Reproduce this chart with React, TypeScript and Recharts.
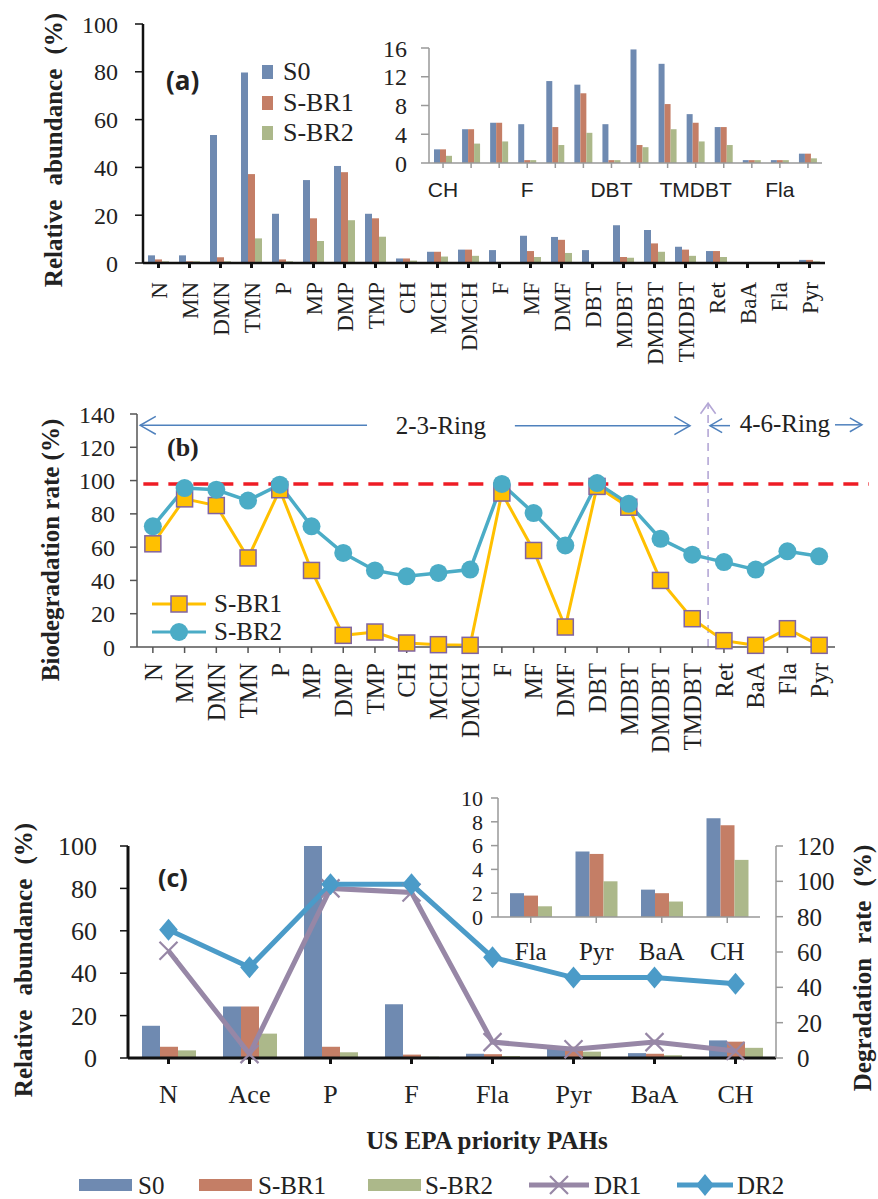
import React from 'react';
import {
  BarChart,
  Bar,
  XAxis,
  YAxis,
  LineChart,
  Line,
  ComposedChart,
  ReferenceLine,
  ReferenceDot,
  Legend,
} from 'recharts';

const SERIF = '"Liberation Serif", "Times New Roman", serif';
const SANS = '"Liberation Sans", Arial, sans-serif';
const OPEN = '"Open Sans", "Liberation Sans", sans-serif';

// ---------------- data: panel (a) ----------------
const pahCategories = ['N', 'MN', 'DMN', 'TMN', 'P', 'MP', 'DMP', 'TMP', 'CH', 'MCH', 'DMCH', 'F', 'MF', 'DMF', 'DBT', 'MDBT', 'DMDBT', 'TMDBT', 'Ret', 'BaA', 'Fla', 'Pyr'];
const s0Abundance = [3.2, 3.2, 53.6, 79.7, 20.6, 34.7, 40.6, 20.6, 1.9, 4.7, 5.6, 5.4, 11.4, 10.9, 5.4, 15.8, 13.8, 6.8, 5.0, 0.4, 0.4, 1.3];
const sbr1Abundance = [1.5, 0.7, 2.4, 37.2, 1.5, 18.7, 38.0, 18.7, 1.9, 4.7, 5.6, 0.4, 5.0, 9.7, 0.4, 2.5, 8.2, 5.6, 5.0, 0.4, 0.4, 1.3];
const sbr2Abundance = [0.7, 0.7, 0.7, 10.3, 0.7, 9.2, 17.9, 11.0, 1.0, 2.7, 3.0, 0.4, 2.5, 4.2, 0.4, 2.2, 4.7, 3.0, 2.5, 0.4, 0.4, 0.65];
const insetStartCategory = 'CH';
const abundanceTicks = [0, 20, 40, 60, 80, 100];
const insetTicksA = [0, 4, 8, 12, 16];

// ---------------- data: panel (b) ----------------
const rateSBR1 = [62, 89, 85, 53.5, 94.5, 46, 7, 9, 2.4, 1.4, 1, 92.5, 58, 12, 96.5, 84, 40, 17, 3.8, 1, 11, 1];
const rateSBR2 = [72.5, 95.5, 94.5, 88, 97.5, 72.5, 56.5, 46, 42.5, 44.5, 46.5, 98, 80.5, 61, 98.5, 86, 65, 55.5, 51, 46.5, 57.5, 54.5];
const rateTicks = [0, 20, 40, 60, 80, 100, 120, 140];
const completeDegradation = 98;
const lastLowRing = 'TMDBT';

// ---------------- data: panel (c) ----------------
const epaCategories = ['N', 'Ace', 'P', 'F', 'Fla', 'Pyr', 'BaA', 'CH'];
const epaS0 = [15.2, 24.3, 100, 25.3, 2.0, 5.5, 2.3, 8.3];
const epaSBR1 = [5.3, 24.3, 5.3, 1.6, 1.8, 5.3, 2.0, 7.7];
const epaSBR2 = [3.6, 11.5, 2.7, 0.6, 0.9, 3.0, 1.3, 4.8];
const epaDR1 = [60.7, 2.2, 96, 93.7, 9, 5, 9, 4];
const epaDR2 = [72.6, 51.4, 98.3, 98.3, 57, 45.5, 45.5, 42];
const epaInsetFrom = 'Fla';
const rateTicksC = [0, 20, 40, 60, 80, 100, 120];
const insetTicksC = [0, 2, 4, 6, 8, 10];

// ---------------- colours ----------------
const C_S0 = '#6f8ab1';
const C_BR1 = '#c47e66';
const C_BR2 = '#acb88a';
const C_Y = '#ffc000';
const C_CY = '#4bacc6';
const C_DR1 = '#9787a6';
const C_DR2 = '#4b9bc8';
const C_ARROW = '#4f81bd';

// ---------------- derived tables ----------------
const dataA = pahCategories.map((name, i) => ({ name, s0: s0Abundance[i], sbr1: sbr1Abundance[i], sbr2: sbr2Abundance[i] }));
const dataAInset = dataA.slice(pahCategories.indexOf(insetStartCategory));
const dataB = pahCategories.map((name, i) => ({ i, name, br1: rateSBR1[i], br2: rateSBR2[i] }));
const boundaryB = pahCategories.indexOf(lastLowRing) + 0.5;
const dataC = epaCategories.map((name, i) => ({ name, s0: epaS0[i], sbr1: epaSBR1[i], sbr2: epaSBR2[i], dr1: epaDR1[i], dr2: epaDR2[i] }));
const dataCInset = dataC.slice(epaCategories.indexOf(epaInsetFrom));

// ---------------- helpers ----------------
const RotTick = (props: any) => {
  const { x, y, payload, names, fontSize, offset } = props;
  const v = names ? names[payload.value] : payload.value;
  const yy = y + (offset || 0);
  return (
    <text
      x={x}
      y={yy}
      dy="0.35em"
      transform={`rotate(-90, ${x}, ${yy})`}
      textAnchor="end"
      fontFamily={SERIF}
      fontSize={fontSize}
      fill="#222"
    >
      {v}
    </text>
  );
};

const InsetTickA = (props: any) => {
  const { x, y, payload, index } = props;
  if (index % 3 !== 0) return <g />;
  return (
    <text x={x} y={y} dy="0.71em" textAnchor="middle" fontFamily={SANS} fontSize={21} fill="#222">
      {payload.value}
    </text>
  );
};

const arrowPath = (tx: number, ty: number, fx: number, fy: number, L: number, a: number) => {
  const ang = Math.atan2(ty - fy, tx - fx);
  return `M${tx - L * Math.cos(ang - a)},${ty - L * Math.sin(ang - a)} L${tx},${ty} L${tx - L * Math.cos(ang + a)},${ty - L * Math.sin(ang + a)}`;
};

const makeArrow = (head: 'start' | 'end', color: string, width: number, dash?: string, L = 18, a = 0.52) => (p: any) => {
  const { x1, y1, x2, y2 } = p;
  const d = head === 'end' ? arrowPath(x2, y2, x1, y1, L, a) : arrowPath(x1, y1, x2, y2, L, a);
  return (
    <g>
      <line x1={x1} y1={y1} x2={x2} y2={y2} stroke={color} strokeWidth={width} strokeDasharray={dash} />
      <path d={d} fill="none" stroke={color} strokeWidth={width} />
    </g>
  );
};

const textShape = (label: string) => (p: any) => (
  <text x={p.cx} y={p.cy} dy="0.35em" textAnchor="middle" fontFamily={SERIF} fontSize={25} fill="#222">
    {label}
  </text>
);

const SquareDot = (p: any) => {
  const { cx, cy, index } = p;
  return <rect key={`sq${index}`} x={cx - 8} y={cy - 8} width={16} height={16} fill={C_Y} stroke="#8064a2" strokeWidth={1.5} />;
};
const CircleDot = (p: any) => {
  const { cx, cy, index } = p;
  return <circle key={`ci${index}`} cx={cx} cy={cy} r={9} fill={C_CY} />;
};
const DiamondDot = (p: any) => {
  const { cx, cy, index } = p;
  const s = 11;
  return <path key={`di${index}`} d={`M${cx},${cy - s} L${cx + s * 0.85},${cy} L${cx},${cy + s} L${cx - s * 0.85},${cy} Z`} fill={C_DR2} />;
};
const CrossDot = (p: any) => {
  const { cx, cy, index } = p;
  const s = 9;
  return (
    <path key={`cr${index}`} d={`M${cx - s},${cy - s} L${cx + s},${cy + s} M${cx - s},${cy + s} L${cx + s},${cy - s}`} stroke={C_DR1} strokeWidth={2.2} fill="none" />
  );
};

const pick = (payload: any[], key: string) => payload.find((e: any) => e.dataKey === key) || { value: key, color: '#000' };

const LegendA = (props: any) => {
  const payload = props.payload || [];
  return (
    <div style={{ fontFamily: SERIF, fontSize: 26, color: '#222' }}>
      {['s0', 'sbr1', 'sbr2'].map((k) => {
        const e = pick(payload, k);
        return (
          <div key={k} style={{ display: 'flex', alignItems: 'center', height: 30.5 }}>
            <span style={{ display: 'inline-block', width: 11, height: 14, background: e.color, marginRight: 10 }} />
            <span>{e.value}</span>
          </div>
        );
      })}
    </div>
  );
};

const LegendB = (props: any) => {
  const payload = props.payload || [];
  return (
    <div style={{ fontFamily: SERIF, fontSize: 25, color: '#222' }}>
      {['br1', 'br2'].map((k) => {
        const e = pick(payload, k);
        return (
          <div key={k} style={{ display: 'flex', alignItems: 'center', height: 28 }}>
            <svg width={58} height={24} style={{ marginRight: 4 }}>
              <line x1={0} y1={12} x2={54} y2={12} stroke={e.color} strokeWidth={3} />
              {k === 'br1' ? (
                <rect x={19} y={4} width={16} height={16} fill={C_Y} stroke="#8064a2" strokeWidth={1.5} />
              ) : (
                <circle cx={27} cy={12} r={9} fill={C_CY} />
              )}
            </svg>
            <span>{e.value}</span>
          </div>
        );
      })}
    </div>
  );
};

const LegendC = (props: any) => {
  const payload = props.payload || [];
  const items = [
    { k: 's0', sx: 79, tx: 138, type: 'rect' },
    { k: 'sbr1', sx: 199, tx: 258, type: 'rect' },
    { k: 'sbr2', sx: 368, tx: 425, type: 'rect' },
    { k: 'dr1', sx: 529, tx: 594, type: 'x' },
    { k: 'dr2', sx: 677, tx: 737, type: 'd' },
  ];
  return (
    <svg width={878} height={26}>
      {items.map((it) => {
        const e = pick(payload, it.k);
        const cy = 12;
        let icon;
        if (it.type === 'rect') icon = <rect x={it.sx} y={cy - 6} width={53} height={12} fill={e.color} />;
        else if (it.type === 'x')
          icon = (
            <g>
              <line x1={it.sx} y1={cy} x2={it.sx + 60} y2={cy} stroke={e.color} strokeWidth={5} />
              <path d={`M${it.sx + 21},${cy - 9} L${it.sx + 39},${cy + 9} M${it.sx + 21},${cy + 9} L${it.sx + 39},${cy - 9}`} stroke={e.color} strokeWidth={2.2} />
            </g>
          );
        else
          icon = (
            <g>
              <line x1={it.sx} y1={cy} x2={it.sx + 56} y2={cy} stroke={e.color} strokeWidth={5} />
              <path d={`M${it.sx + 28},${cy - 11} L${it.sx + 37},${cy} L${it.sx + 28},${cy + 11} L${it.sx + 19},${cy} Z`} fill={e.color} />
            </g>
          );
        return (
          <g key={it.k}>
            {icon}
            <text x={it.tx} y={cy} dy="0.35em" fontFamily={SERIF} fontSize={25} fill="#222">
              {e.value}
            </text>
          </g>
        );
      })}
    </svg>
  );
};

const serifTick = (size: number) => ({ fontFamily: SERIF, fontSize: size, fill: '#222' });

export default function App() {
  const idxTicks = pahCategories.map((_, i) => i);
  return (
    <div style={{ position: 'absolute', left: 0, top: 0, width: 878, height: 1199, background: '#fff', overflow: 'hidden' }}>
      {/* ---------- panel (a) main ---------- */}
      <div style={{ position: 'absolute', left: 0, top: 0 }}>
        <BarChart width={878} height={370} data={dataA} margin={{ top: 24, right: 53, bottom: 0, left: 0 }} barGap={0}>
          <XAxis
            dataKey="name"
            interval={0}
            height={107}
            tick={<RotTick fontSize={23} />}
            axisLine={{ stroke: '#111', strokeWidth: 2.5 }}
            tickLine={{ stroke: '#111', strokeWidth: 3 }}
            tickSize={5}
            tickMargin={14}
          />
          <YAxis
            width={143}
            domain={[0, 100]}
            ticks={abundanceTicks}
            interval={0}
            tick={serifTick(24)}
            axisLine={{ stroke: '#111', strokeWidth: 2.5 }}
            tickLine={{ stroke: '#111', strokeWidth: 1.5 }}
            tickSize={8}
            tickMargin={17}
          />
          <Bar dataKey="s0" name="S0" fill={C_S0} barSize={7} isAnimationActive={false} />
          <Bar dataKey="sbr1" name="S-BR1" fill={C_BR1} barSize={7} isAnimationActive={false} />
          <Bar dataKey="sbr2" name="S-BR2" fill={C_BR2} barSize={7} isAnimationActive={false} />
          <Legend
            layout="vertical"
            align="center"
            verticalAlign="middle"
            content={<LegendA />}
            wrapperStyle={{ left: 262, top: 57, width: 120, height: 92 }}
          />
        </BarChart>
      </div>

      {/* ---------- panel (a) inset ---------- */}
      <div style={{ position: 'absolute', left: 340, top: 30 }}>
        <BarChart width={500} height={180} data={dataAInset} margin={{ top: 18, right: 18, bottom: 0, left: 0 }} barGap={0}>
          <XAxis
            dataKey="name"
            interval={0}
            height={47}
            tick={<InsetTickA />}
            axisLine={{ stroke: '#999', strokeWidth: 1.5 }}
            tickLine={{ stroke: '#999', strokeWidth: 1.5 }}
            tickSize={5}
            tickMargin={14}
          />
          <YAxis
            width={89}
            domain={[0, 16]}
            ticks={insetTicksA}
            interval={0}
            tick={serifTick(24)}
            axisLine={{ stroke: '#999', strokeWidth: 1.5 }}
            tickLine={{ stroke: '#999', strokeWidth: 1.5 }}
            tickSize={8}
            tickMargin={14}
          />
          <Bar dataKey="s0" fill={C_S0} barSize={6} isAnimationActive={false} />
          <Bar dataKey="sbr1" fill={C_BR1} barSize={6} isAnimationActive={false} />
          <Bar dataKey="sbr2" fill={C_BR2} barSize={6} isAnimationActive={false} />
        </BarChart>
      </div>

      {/* ---------- panel (b) ---------- */}
      <div style={{ position: 'absolute', left: 0, top: 390 }}>
        <LineChart width={878} height={380} data={dataB} margin={{ top: 24, right: 43, bottom: 0, left: 0 }}>
          <XAxis
            type="number"
            dataKey="i"
            domain={[-0.5, 21.5]}
            ticks={idxTicks}
            interval={0}
            height={123}
            tick={<RotTick fontSize={25} names={pahCategories} />}
            axisLine={{ stroke: '#555', strokeWidth: 1.5 }}
            tickLine={{ stroke: '#555', strokeWidth: 1.5 }}
            tickSize={6}
            tickMargin={10}
          />
          <YAxis
            width={137}
            domain={[0, 140]}
            ticks={rateTicks}
            interval={0}
            tick={serifTick(24)}
            axisLine={{ stroke: '#555', strokeWidth: 1.5 }}
            tickLine={{ stroke: '#555', strokeWidth: 1.5 }}
            tickSize={7}
            tickMargin={15}
          />
          <ReferenceLine
            segment={[{ x: -0.3, y: completeDegradation }, { x: 22.57, y: completeDegradation }]}
            stroke="#ee1c25"
            strokeWidth={3.5}
            strokeDasharray="15 10"
            ifOverflow="visible"
          />
          <ReferenceLine
            segment={[{ x: boundaryB, y: 0 }, { x: boundaryB, y: 146.5 }]}
            ifOverflow="visible"
            shape={makeArrow('end', '#b4a7d6', 1.6, '8 6', 13, 0.62)}
          />
          <ReferenceLine segment={[{ x: -0.4, y: 133.2 }, { x: 6.75, y: 133.2 }]} ifOverflow="visible" shape={makeArrow('start', C_ARROW, 1.5)} />
          <ReferenceLine segment={[{ x: 11.41, y: 133 }, { x: 16.93, y: 133 }]} ifOverflow="visible" shape={makeArrow('end', C_ARROW, 1.5)} />
          <ReferenceLine segment={[{ x: 17.56, y: 133 }, { x: 18.19, y: 133 }]} ifOverflow="visible" shape={makeArrow('start', C_ARROW, 1.5, undefined, 14)} />
          <ReferenceLine segment={[{ x: 21.5, y: 133.5 }, { x: 22.35, y: 133.5 }]} ifOverflow="visible" shape={makeArrow('end', C_ARROW, 1.5, undefined, 14)} />
          <ReferenceDot x={9.08} y={133.5} r={0} ifOverflow="visible" shape={textShape('2-3-Ring')} />
          <ReferenceDot x={19.92} y={134.5} r={0} ifOverflow="visible" shape={textShape('4-6-Ring')} />
          <Line dataKey="br1" name="S-BR1" stroke={C_Y} strokeWidth={3} dot={SquareDot} isAnimationActive={false} />
          <Line dataKey="br2" name="S-BR2" stroke={C_CY} strokeWidth={3.5} dot={CircleDot} isAnimationActive={false} />
          <Legend
            layout="vertical"
            align="center"
            verticalAlign="middle"
            content={<LegendB />}
            wrapperStyle={{ left: 152, top: 200, width: 150, height: 56 }}
          />
        </LineChart>
      </div>

      {/* ---------- panel (c) main ---------- */}
      <div style={{ position: 'absolute', left: 0, top: 790 }}>
        <ComposedChart width={878} height={409} data={dataC} margin={{ top: 56, right: 0, bottom: 0, left: 0 }} barGap={0}>
          <XAxis
            dataKey="name"
            interval={0}
            height={141}
            tick={serifTick(26)}
            axisLine={{ stroke: '#111', strokeWidth: 3 }}
            tickLine={{ stroke: '#111', strokeWidth: 3 }}
            tickSize={6}
            tickMargin={21}
          />
          <YAxis
            yAxisId="l"
            width={128}
            domain={[0, 100]}
            ticks={abundanceTicks}
            interval={0}
            tick={serifTick(26)}
            axisLine={{ stroke: '#111', strokeWidth: 3 }}
            tickLine={{ stroke: '#111', strokeWidth: 1.5 }}
            tickSize={8}
            tickMargin={23}
          />
          <YAxis
            yAxisId="r"
            orientation="right"
            width={102}
            domain={[0, 120]}
            ticks={rateTicksC}
            interval={0}
            tick={serifTick(25)}
            axisLine={{ stroke: '#999', strokeWidth: 1.5 }}
            tickLine={{ stroke: '#999', strokeWidth: 1.5 }}
            tickSize={7}
            tickMargin={14}
          />
          <Bar yAxisId="l" dataKey="s0" name="S0" fill={C_S0} barSize={18} isAnimationActive={false} />
          <Bar yAxisId="l" dataKey="sbr1" name="S-BR1" fill={C_BR1} barSize={18} isAnimationActive={false} />
          <Bar yAxisId="l" dataKey="sbr2" name="S-BR2" fill={C_BR2} barSize={18} isAnimationActive={false} />
          <Line yAxisId="r" dataKey="dr1" name="DR1" stroke={C_DR1} strokeWidth={5} dot={CrossDot} isAnimationActive={false} />
          <Line yAxisId="r" dataKey="dr2" name="DR2" stroke={C_DR2} strokeWidth={5} dot={DiamondDot} isAnimationActive={false} />
          <Legend
            layout="vertical"
            align="center"
            verticalAlign="middle"
            content={<LegendC />}
            wrapperStyle={{ left: 0, top: 383, width: 878, height: 26 }}
          />
        </ComposedChart>
      </div>

      {/* ---------- panel (c) inset ---------- */}
      <div style={{ position: 'absolute', left: 440, top: 780 }}>
        <BarChart width={340} height={190} data={dataCInset} margin={{ top: 18, right: 20, bottom: 0, left: 0 }} barGap={0}>
          <XAxis
            dataKey="name"
            interval={0}
            height={53}
            tick={serifTick(25)}
            axisLine={{ stroke: '#999', strokeWidth: 1.5 }}
            tickLine={{ stroke: '#999', strokeWidth: 1.5 }}
            tickSize={6}
            tickMargin={19}
          />
          <YAxis
            width={58}
            domain={[0, 10]}
            ticks={insetTicksC}
            interval={0}
            tick={serifTick(22)}
            axisLine={{ stroke: '#999', strokeWidth: 1.5 }}
            tickLine={{ stroke: '#999', strokeWidth: 1.5 }}
            tickSize={7}
            tickMargin={8}
          />
          <Bar dataKey="s0" fill={C_S0} barSize={14} isAnimationActive={false} />
          <Bar dataKey="sbr1" fill={C_BR1} barSize={14} isAnimationActive={false} />
          <Bar dataKey="sbr2" fill={C_BR2} barSize={14} isAnimationActive={false} />
        </BarChart>
      </div>

      {/* ---------- titles & panel labels ---------- */}
      <svg width={878} height={1199} style={{ position: 'absolute', left: 0, top: 0, pointerEvents: 'none' }}>
        <text x={53} y={150} dy="0.35em" transform="rotate(-90, 53, 150)" textAnchor="middle" fontFamily={SERIF} fontWeight="bold" fontSize={25} wordSpacing={8} fill="#222">
          Relative abundance (%)
        </text>
        <text x={166} y={81} dy="0.35em" fontFamily={OPEN} fontWeight={700} fontSize={26} fill="#222">
          (a)
        </text>
        <text x={50} y={550} dy="0.35em" transform="rotate(-90, 50, 550)" textAnchor="middle" fontFamily={SERIF} fontWeight="bold" fontSize={25} fill="#222">
          Biodegradation rate (%)
        </text>
        <text x={167} y={447} dy="0.35em" fontFamily={SERIF} fontWeight="bold" fontSize={26} fill="#222">
          (b)
        </text>
        <text x={23} y={960} dy="0.35em" transform="rotate(-90, 23, 960)" textAnchor="middle" fontFamily={SERIF} fontWeight="bold" fontSize={25} wordSpacing={8} fill="#222">
          Relative abundance (%)
        </text>
        <text x={158} y={878} dy="0.35em" fontFamily={OPEN} fontWeight={700} fontSize={25} fill="#222">
          (c)
        </text>
        <text x={862} y={968} dy="0.35em" transform="rotate(-90, 862, 968)" textAnchor="middle" fontFamily={SERIF} fontWeight="bold" fontSize={25} wordSpacing={8} fill="#222">
          Degradation rate (%)
        </text>
        <text x={487} y={1140} dy="0.35em" textAnchor="middle" fontFamily={SERIF} fontWeight="bold" fontSize={25} fill="#222">
          US EPA priority PAHs
        </text>
      </svg>
    </div>
  );
}
